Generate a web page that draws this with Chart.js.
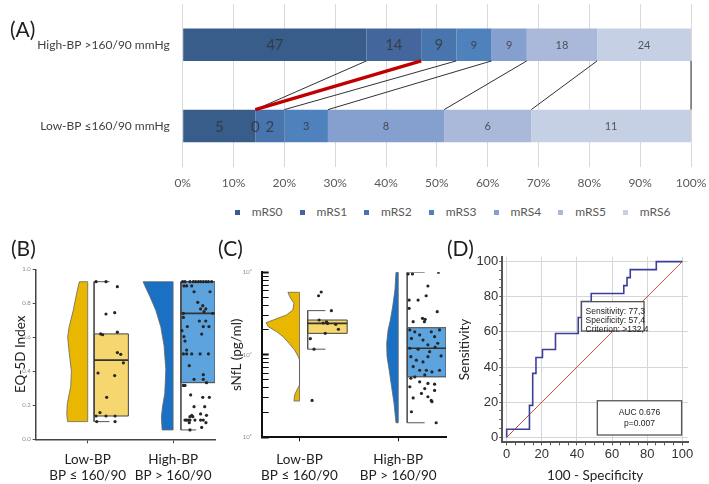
<!DOCTYPE html>
<html lang="en">
<head>
<meta charset="UTF-8">
<title>Blood pressure and outcome</title>
<script src="https://cdn.jsdelivr.net/npm/chart.js@4.4.1/dist/chart.umd.min.js"></script>
<style>
body { margin: 0; background: #fff; }
#page { position: relative; width: 709px; height: 484px; overflow: hidden; font-family: Lato, sans-serif; }
#page canvas { position: absolute; }
.tag { position: absolute; font-size: 21px; line-height: 1; color: #1e1e1e; }
#legendA { position: absolute; left: 235px; top: 206px; height: 12px; display: flex; align-items: center;
	font-size: 12px; line-height: 12px; color: #595959; white-space: nowrap; }
#legendA .lg { display: flex; align-items: center; width: 64.7px; }
#legendA .lg i { display: inline-block; width: 5px; height: 5px; margin-right: 11.7px; }
</style>
</head>
<body>
<div id="page">
	<canvas id="chartA" width="709" height="192" style="left:0;top:0"></canvas>
	<div id="legendA"></div>
	<canvas id="chartB" width="225" height="254" style="left:0;top:230px"></canvas>
	<canvas id="chartC" width="225" height="254" style="left:225px;top:230px"></canvas>
	<canvas id="chartD" width="259" height="254" style="left:450px;top:230px"></canvas>
	<div class="tag" style="left:10px;top:18px">(A)</div>
	<div class="tag" style="left:11px;top:237px">(B)</div>
	<div class="tag" style="left:218px;top:237px">(C)</div>
	<div class="tag" style="left:447px;top:237px">(D)</div>
</div>

<script type="text/javascript">

// (A) mRS distribution per group (patient counts)
const bpGroups = ['High-BP >160/90 mmHg', 'Low-BP ≤160/90 mmHg'];
const mrsLabels = ['mRS0', 'mRS1', 'mRS2', 'mRS3', 'mRS4', 'mRS5', 'mRS6'];
const highBpCounts = [47, 14, 9, 9, 9, 18, 24];
const lowBpCounts = [5, 0, 2, 3, 8, 6, 11];

// (B) EQ-5D index: min, q1, median, q3, max
const eqTicks = [0, 0.2, 0.4, 0.6, 0.8, 1.0];
const eqLowBox = [0.104, 0.137, 0.466, 0.62, 0.927];
const eqHighBox = [0.055, 0.333, 0.741, 0.927, 0.927];
const eqLowViolinY = [0.927, 0.86, 0.76, 0.66, 0.60, 0.506, 0.40, 0.31, 0.21, 0.15, 0.104];
const eqLowViolinW = [0.47, 0.62, 0.81, 1.05, 1.13, 1.04, 0.92, 0.96, 1.15, 1.18, 1.14];
const eqHighViolinY = [0.927, 0.90, 0.84, 0.76, 0.66, 0.55, 0.41, 0.27, 0.19, 0.13, 0.055];
const eqHighViolinW = [1.69, 1.58, 1.31, 0.98, 0.69, 0.51, 0.41, 0.47, 0.60, 0.66, 0.62];
const eqLowPts = [[3.40,0.927],[3.96,0.927],[4.60,0.898],[3.96,0.737],[4.45,0.745],[3.66,0.62],[3.77,0.615],
	[4.60,0.63],[4.60,0.51],[4.79,0.50],[4.94,0.45],[3.51,0.39],[4.45,0.375],[4.00,0.247],[3.62,0.157],
	[3.40,0.137],[3.96,0.137],[4.47,0.137],[3.44,0.104],[4.47,0.104]];
const eqHighPts = [[8.28,0.927],[8.41,0.927],[8.69,0.927],[8.88,0.927],[9.01,0.927],[9.16,0.927],[9.29,0.927],
	[9.44,0.927],[9.59,0.927],[9.73,0.927],[9.91,0.927],[8.35,0.902],[8.50,0.902],[8.79,0.902],[8.92,0.868],
	[9.82,0.868],[9.13,0.806],[9.41,0.786],[9.29,0.767],[9.58,0.767],[9.48,0.751],[8.32,0.741],[9.97,0.741],
	[8.32,0.717],[9.22,0.696],[9.58,0.696],[8.54,0.663],[9.44,0.663],[9.76,0.663],[8.24,0.639],[9.35,0.619],
	[8.35,0.604],[8.41,0.578],[8.50,0.525],[8.32,0.502],[8.50,0.502],[8.79,0.502],[9.26,0.502],[9.73,0.502],
	[8.65,0.433],[9.44,0.38],[8.92,0.353],[9.44,0.353],[9.62,0.333],[8.32,0.317],[8.41,0.317],[8.73,0.261],
	[9.41,0.247],[9.78,0.247],[8.92,0.192],[9.52,0.192],[9.29,0.149],[8.79,0.141],[9.62,0.141],[8.69,0.133],
	[8.85,0.133],[8.41,0.113],[8.50,0.113],[8.60,0.113],[8.69,0.113],[8.97,0.113],[9.29,0.113],[9.44,0.113],
	[8.65,0.098],[9.59,0.098],[9.35,0.070],[8.69,0.055]];

// (C) sNfL (pg/ml): min, q1, median, q3, max
const nflTicks = [10, 20, 30, 40, 50, 60, 70, 80, 90, 100, 200, 300, 400, 500, 600, 700, 800, 900, 1000];
const nflMajors = [10, 100, 1000];
const nflMajorLabels = ['10¹', '10²', '10³'];
const nflLowBox = [117, 182, 241, 264, 343];
const nflHighBox = [15, 54, 120, 213, 1000];
const nflLowViolinY = [573, 507, 421, 349, 304, 264, 245, 219, 191, 166, 138, 114, 95, 86.5, 43, 37.4, 32.6, 27.5];
const nflLowViolinW = [0.66, 0.56, 0.32, 0.38, 0.75, 1.5, 1.91, 1.78, 1.31, 0.94, 0.60, 0.28, 0.07, 0, 0, 0.15, 0.28, 0.32];
const nflHighViolinY = [1000, 610, 383, 264, 200, 138, 95, 65.5, 41, 25.8, 15];
const nflHighViolinW = [0.13, 0.19, 0.32, 0.45, 0.58, 0.66, 0.64, 0.52, 0.38, 0.24, 0.13];
const nflLowPts = [[3.24,520],[3.39,577],[3.97,343],[3.27,264],[3.69,251],[3.50,243],[3.75,240],[4.22,234],
	[4.37,204],[3.62,182],[2.77,157],[2.98,117],[2.87,28]];
const nflHighPts = [[8.34,954],[8.59,954],[10.07,1000],[9.47,682],[8.91,461],[8.40,461],[9.37,520],[10.0,333],
	[8.40,366],[9.16,277],[9.31,269],[9.27,252],[8.63,252],[8.44,200],[8.72,190],[9.00,174],[9.66,190],
	[9.85,166],[10.13,200],[8.53,158],[9.19,151],[9.47,132],[10.03,138],[8.44,120],[8.91,117],[9.57,109],
	[9.88,124],[8.50,95],[8.81,86],[9.19,82],[9.47,95],[10.22,97],[8.63,72],[9.00,65],[9.38,65],[9.70,62],
	[10.13,65],[8.72,54],[9.29,57],[8.50,52],[9.00,47],[9.47,45],[9.85,44],[8.44,41],[9.29,39],[9.85,37],
	[9.10,34],[9.47,31],[8.63,30],[9.66,28],[9.70,27],[8.53,20.4],[9.94,15]];
const groupTicks = [['Low-BP', 'BP ≤ 160/90'], ['High-BP', 'BP > 160/90']];

// (D) ROC curve corners
const rocFpr = [0, 12.96, 14.81, 16.67, 20.37, 27.78, 40.74, 42.59, 48.15, 66.67, 68.52, 70.37, 85.19, 100];
const rocSens = [0, 4.55, 18.18, 36.36, 45.45, 50.0, 59.09, 68.18, 77.27, 81.82, 86.36, 90.91, 95.45, 100];
const rocTicks = [0, 5, 10, 15, 20, 25, 30, 35, 40, 45, 50, 55, 60, 65, 70, 75, 80, 85, 90, 95, 100];
const criterionText = ['Sensitivity: 77,3', 'Specificity: 57,4', 'Criterion: >132,4'];
const aucText = ['AUC 0.676', 'p=0.007'];


Chart.defaults.font.family = 'Lato, "Open Sans", sans-serif';
Chart.defaults.animation = false;
Chart.defaults.plugins.tooltip.enabled = false;
Chart.defaults.plugins.legend.display = false;

const mrsColors = ['#385d8a', '#43679c', '#4875ae', '#4f81bd', '#859fce', '#aab9d9', '#c6d0e4'];

// ---------- (A) ----------
function toPercent(counts) {
	var total = counts.reduce((a, b) => a + b, 0);
	return counts.map(c => c / total * 100);
}
const highPct = toPercent(highBpCounts);
const lowPct = toPercent(lowBpCounts);

const countLabels = {
	id: 'countLabels',
	afterDatasetsDraw(chart) {
		const ctx = chart.ctx;
		ctx.save();
		ctx.textAlign = 'center';
		ctx.textBaseline = 'middle';
		ctx.fillStyle = 'rgba(50,50,50,0.78)';
		chart.data.datasets.forEach((ds, i) => {
			ctx.font = (i < 3 ? '15px' : '11px') + ' Lato';
			chart.getDatasetMeta(i).data.forEach((bar, j) => {
				ctx.fillText(String(ds.counts[j]), (bar.x + bar.base) / 2, bar.y + 1);
			});
		});
		ctx.restore();
	}
};

// lines joining the cumulative ends of each mRS step, mRS1 in red
const connectors = {
	id: 'connectors',
	afterDatasetsDraw(chart) {
		const ctx = chart.ctx;
		const order = [0, 2, 3, 4, 5, 6, 1];
		ctx.save();
		order.forEach(i => {
			const meta = chart.getDatasetMeta(i);
			const top = meta.data[0], bottom = meta.data[1];
			ctx.strokeStyle = i === 1 ? '#c00000' : '#1a1a1a';
			ctx.lineWidth = i === 1 ? 3.2 : 0.9;
			ctx.beginPath();
			ctx.moveTo(top.x, top.y + top.height / 2);
			ctx.lineTo(bottom.x, bottom.y - bottom.height / 2);
			ctx.stroke();
		});
		ctx.restore();
	}
};

const chartA = new Chart(document.getElementById('chartA'), {
	type: 'bar',
	data: {
		labels: bpGroups,
		datasets: mrsLabels.map((lab, i) => ({
			label: lab,
			data: [highPct[i], lowPct[i]],
			counts: [highBpCounts[i], lowBpCounts[i]],
			backgroundColor: mrsColors[i],
			borderWidth: 0,
			barPercentage: 0.8,
			categoryPercentage: 0.5
		}))
	},
	options: {
		indexAxis: 'y',
		responsive: false,
		layout: { padding: { top: 4, right: 18, bottom: 0, left: 0 } },
		scales: {
			x: {
				stacked: true, min: 0, max: 100,
				ticks: { stepSize: 10, callback: v => v + '%', color: '#595959', font: { size: 12 }, padding: 9.3, maxRotation: 0 },
				grid: { color: '#d9d9d9', drawTicks: false },
				border: { display: false },
				afterFit: s => { s.height = 25.5; s.paddingLeft = 0; s.paddingRight = 0; }
			},
			y: {
				stacked: true,
				ticks: { color: '#404040', font: { size: 12 }, padding: 13 },
				grid: { display: false, drawTicks: false },
				border: { display: false },
				afterFit: s => { s.width = 182.7; s.paddingTop = 0; s.paddingBottom = 0; }
			}
		}
	},
	plugins: [connectors, countLabels]
});

// legend for (A), built from the chart's datasets
var legendA = document.getElementById('legendA');
chartA.data.datasets.forEach(ds => {
	var item = document.createElement('span');
	item.className = 'lg';
	var box = document.createElement('i');
	box.style.background = ds.backgroundColor;
	item.appendChild(box);
	item.appendChild(document.createTextNode(ds.label));
	legendA.appendChild(item);
});

// ---------- shared raincloud helpers (B, C) ----------
const shapeFill = {
	id: 'shapeFill',
	beforeDatasetDraw(chart, args) {
		const ds = chart.data.datasets[args.index];
		if (!ds.shapeColor) return;
		const pts = args.meta.data;
		const ctx = chart.ctx;
		ctx.save();
		ctx.beginPath();
		pts.forEach((p, k) => k ? ctx.lineTo(p.x, p.y) : ctx.moveTo(p.x, p.y));
		ctx.closePath();
		ctx.fillStyle = ds.shapeColor;
		ctx.fill();
		ctx.restore();
	}
};

function violinOutline(edge, levels, widths) {
	var pts = [{ x: edge, y: levels[0] }];
	levels.forEach((lv, k) => pts.push({ x: edge - widths[k], y: lv }));
	pts.push({ x: edge, y: levels[levels.length - 1] });
	pts.push({ x: edge, y: levels[0] });
	return pts;
}

function raincloud(pos, stats, vY, vW, pts, violinColor, boxColor) {
	const x0 = pos.box[0], x1 = pos.box[1];
	const cap = x0 + (x1 - x0) * 0.45;
	const [mn, q1, med, q3, mx] = stats;
	return {
		points: { data: pts.map(p => ({ x: p[0], y: p[1] })), showLine: false, pointRadius: 1.6,
			pointBackgroundColor: '#262626', pointBorderWidth: 0 },
		lines: [
			{ data: [{ x: x0, y: med }, { x: x1, y: med }], borderColor: '#333', borderWidth: 1.7 },
			{ data: [{ x: cap, y: mx }, { x: x0, y: mx }, { x: x0, y: q3 }], borderColor: '#555', borderWidth: 1 },
			{ data: [{ x: x0, y: q1 }, { x: x0, y: mn }, { x: cap, y: mn }], borderColor: '#555', borderWidth: 1 }
		],
		box: { data: [{ x: x0, y: q1 }, { x: x1, y: q1 }, { x: x1, y: q3 }, { x: x0, y: q3 }, { x: x0, y: q1 }],
			borderColor: '#444', borderWidth: 1, shapeColor: boxColor },
		violin: { data: violinOutline(pos.edge, vY, vW), borderColor: '#666', borderWidth: 0.8, shapeColor: violinColor }
	};
}

function cloudDatasets(a, b) {
	return [a.points, b.points, ...a.lines, ...b.lines, a.box, b.box, a.violin, b.violin]
		.map(d => Object.assign({ showLine: true, pointRadius: 0, fill: false, tension: 0 }, d));
}

const yellowViolin = '#eab700', yellowBox = '#f6d66f';
const blueViolin = '#1a70c2', blueBox = '#5da4de';

// ---------- (B) ----------
const bLow = { edge: 2.93, box: [3.29, 5.22] };
const bHigh = { edge: 7.74, box: [8.18, 10.1] };

new Chart(document.getElementById('chartB'), {
	type: 'scatter',
	data: {
		datasets: cloudDatasets(
			raincloud(bLow, eqLowBox, eqLowViolinY, eqLowViolinW, eqLowPts, yellowViolin, yellowBox),
			raincloud(bHigh, eqHighBox, eqHighViolinY, eqHighViolinW, eqHighPts, blueViolin, blueBox))
	},
	options: {
		responsive: false,
		layout: { padding: { top: 39.3, right: 10, bottom: 0, left: 0 } },
		scales: {
			x: {
				type: 'linear', min: 0, max: 10.1,
				afterBuildTicks: s => { s.ticks = [bLow.edge, bHigh.edge].map(v => ({ value: v })); },
				ticks: { callback: (v, i) => groupTicks[i], color: '#222', font: { size: 13.5, lineHeight: 1.18 },
					padding: 8.7, maxRotation: 0, autoSkip: false },
				grid: { drawOnChartArea: false, tickLength: 4, color: '#444' },
				border: { color: '#444', width: 1.5 },
				afterFit: s => { s.height = 44.7; s.paddingLeft = 0; s.paddingRight = 0; }
			},
			y: {
				min: 0, max: 1,
				afterBuildTicks: s => { s.ticks = eqTicks.map(v => ({ value: v })); },
				ticks: { callback: v => v.toFixed(1), color: '#8a8a8a', font: { size: 6 }, padding: 2 },
				grid: { drawOnChartArea: false, tickLength: 3, color: '#444' },
				border: { color: '#444', width: 1.5 },
				title: { display: true, text: 'EQ-5D Index', color: '#222', font: { size: 13.5 }, padding: { top: 13, bottom: 0 } },
				afterFit: s => { s.width = 35.7; }
			}
		}
	},
	plugins: [shapeFill]
});

// ---------- (C) ----------
const cLow = { edge: 2.155, box: [2.62, 4.87] };
const cHigh = { edge: 7.78, box: [8.29, 10.5] };

new Chart(document.getElementById('chartC'), {
	type: 'scatter',
	data: {
		datasets: cloudDatasets(
			raincloud(cLow, nflLowBox, nflLowViolinY, nflLowViolinW, nflLowPts, yellowViolin, yellowBox),
			raincloud(cHigh, nflHighBox, nflHighViolinY, nflHighViolinW, nflHighPts, blueViolin, blueBox))
	},
	options: {
		responsive: false,
		layout: { padding: { top: 42.3, right: 1.7, bottom: 0, left: 0 } },
		scales: {
			x: {
				type: 'linear', min: 0, max: 10.5,
				afterBuildTicks: s => { s.ticks = [cLow.edge, cHigh.edge].map(v => ({ value: v })); },
				ticks: { callback: (v, i) => groupTicks[i], color: '#222', font: { size: 13.5, lineHeight: 1.18 },
					padding: 10.7, maxRotation: 0, autoSkip: false },
				grid: { drawOnChartArea: false, tickLength: 4, color: '#111' },
				border: { color: '#111', width: 2 },
				afterFit: s => { s.height = 46.7; s.paddingLeft = 0; s.paddingRight = 0; }
			},
			y: {
				type: 'logarithmic', min: 10, max: 1000,
				afterBuildTicks: s => { s.ticks = nflTicks.map(v => ({ value: v })); },
				ticks: { callback: v => nflMajorLabels[nflMajors.indexOf(v)] || '', color: '#8a8a8a', font: { size: 6 },
					padding: 17, autoSkip: false },
				grid: { drawOnChartArea: false, tickLength: -7, color: '#111',
					tickWidth: c => nflMajors.includes(c.tick.value) ? 2 : 1 },
				border: { color: '#111', width: 2 },
				title: { display: true, text: 'sNfL (pg/ml)', color: '#222', font: { size: 13.5 }, padding: { top: 4, bottom: 0 } },
				afterFit: s => { s.width = 36.7; }
			}
		}
	},
	plugins: [shapeFill]
});

// ---------- (D) ----------
function rocCorners() {
	var pts = [{ x: rocFpr[0], y: rocSens[0] }];
	for (var i = 1; i < rocFpr.length; i++) {
		pts.push({ x: rocFpr[i - 1], y: rocSens[i] });
		pts.push({ x: rocFpr[i], y: rocSens[i] });
	}
	return pts;
}

const critBox = { x: [42.6, 78.2], y: [77.2, 60.5] };
const aucBox = { x: [51.6, 99.6], y: [20.8, 1.3] };

const rocNotes = {
	id: 'rocNotes',
	afterDatasetsDraw(chart) {
		const { ctx, scales: { x, y } } = chart;
		function frame(b) {
			const l = x.getPixelForValue(b.x[0]), r = x.getPixelForValue(b.x[1]);
			const t = y.getPixelForValue(b.y[0]), btm = y.getPixelForValue(b.y[1]);
			ctx.fillStyle = '#fff';
			ctx.fillRect(l, t, r - l, btm - t);
			ctx.strokeStyle = '#555';
			ctx.lineWidth = 1.3;
			ctx.strokeRect(l, t, r - l, btm - t);
			return { l, r, t, btm };
		}
		ctx.save();
		ctx.font = '8.5px "Liberation Sans", Arial, sans-serif';
		ctx.textBaseline = 'middle';
		const a = frame(critBox);
		ctx.fillStyle = '#222';
		ctx.textAlign = 'left';
		criterionText.forEach((t, k) => ctx.fillText(t, a.l + 4, a.t + 9.5 + k * 9));
		const b = frame(aucBox);
		ctx.fillStyle = '#222';
		ctx.textAlign = 'center';
		aucText.forEach((t, k) => ctx.fillText(t, (b.l + b.r) / 2, b.t + 12.3 + k * 10.5));
		ctx.restore();
	}
};

const rocTickFont = { family: '"Liberation Sans", Arial, sans-serif', size: 13 };

new Chart(document.getElementById('chartD'), {
	type: 'scatter',
	data: {
		datasets: [
			{ data: rocCorners(), showLine: true, borderColor: '#3b3f98', borderWidth: 1.6, pointRadius: 0 },
			{ data: [{ x: 0, y: 0 }, { x: 100, y: 100 }], showLine: true, borderColor: '#c4503c', borderWidth: 1, pointRadius: 0 }
		]
	},
	options: {
		responsive: false,
		layout: { padding: { top: 26.7, right: 20.9, bottom: 0, left: 0 } },
		scales: {
			x: {
				type: 'linear', min: -2.5, max: 103.3,
				afterBuildTicks: s => { s.ticks = rocTicks.map(v => ({ value: v })); },
				ticks: { callback: v => v % 20 === 0 ? v : '', color: '#333', font: rocTickFont, padding: 1, maxRotation: 0, autoSkip: false },
				grid: { color: c => c.tick && c.tick.value % 20 === 0 ? '#d6d6d6' : 'rgba(0,0,0,0)', tickColor: '#555', tickLength: 3 },
				border: { color: '#555', width: 2 },
				title: { display: true, text: '100 - Specificity', color: '#222', font: { size: 13.5 }, padding: { top: 0, bottom: 0 } },
				afterFit: s => { s.height = 41.7; }
			},
			y: {
				type: 'linear', min: -2.85, max: 102.8,
				afterBuildTicks: s => { s.ticks = rocTicks.map(v => ({ value: v })); },
				ticks: { callback: v => v % 20 === 0 ? v : '', color: '#333', font: rocTickFont, padding: 1, autoSkip: false },
				grid: { color: c => c.tick && c.tick.value % 20 === 0 ? '#d6d6d6' : 'rgba(0,0,0,0)', tickColor: '#555', tickLength: 3 },
				border: { color: '#555', width: 2 },
				title: { display: true, text: 'Sensitivity', color: '#222', font: { size: 13.5 }, padding: { top: 7, bottom: 0 } },
				afterFit: s => { s.width = 52.3; }
			}
		}
	},
	plugins: [rocNotes]
});

</script>
</body>
</html>
